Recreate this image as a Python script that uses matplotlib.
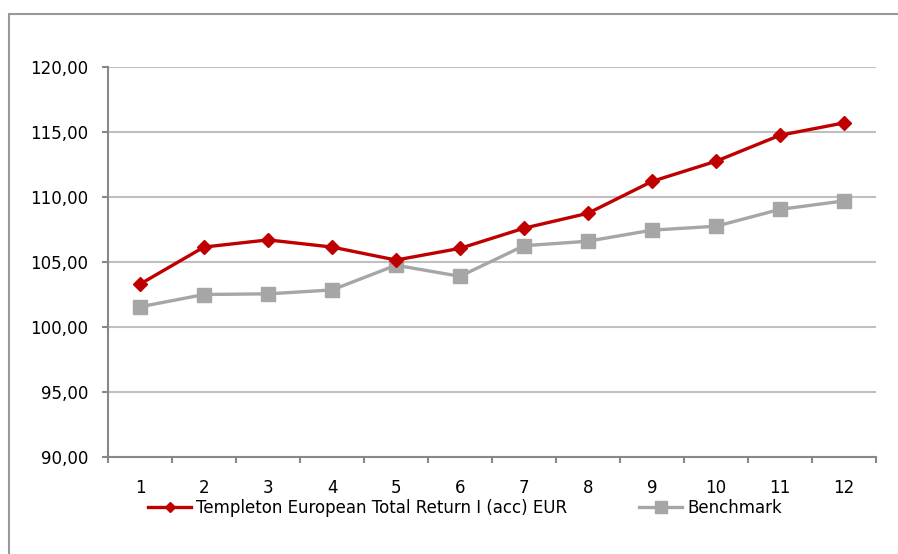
import matplotlib
matplotlib.use('Agg')
import matplotlib.pyplot as plt
from matplotlib.patches import Rectangle
from matplotlib.ticker import FuncFormatter

months = [1, 2, 3, 4, 5, 6, 7, 8, 9, 10, 11, 12]
fund = [103.3, 106.15, 106.7, 106.15, 105.15, 106.05, 107.6, 108.75, 111.2, 112.75, 114.75, 115.7]
bench = [101.55, 102.5, 102.55, 102.85, 104.75, 103.9, 106.25, 106.6, 107.45, 107.75, 109.05, 109.7]
fund_name = 'Templeton European Total Return I (acc) EUR'
bench_name = 'Benchmark'

plt.rcParams['font.family'] = 'DejaVu Sans'

fig = plt.figure(figsize=(8.98, 5.54), dpi=100)
# outer frame (runs off the right and bottom edge)
fig.patches.append(Rectangle((8.5/898, -0.1), 1.2, 1 - 13.5/554 + 0.1, transform=fig.transFigure,
                             fill=False, edgecolor='#999999', linewidth=1.5))

ax = fig.add_axes([108/898, 1 - 457/554, 768/898, 390/554])
red = '#C00000'
grey = '#A6A6A6'
ax.plot(months, fund, color=red, lw=2.4, marker='D', ms=7, label=fund_name, zorder=3)
ax.plot(months, bench, color=grey, lw=2.4, marker='s', ms=10, label=bench_name, zorder=2)

ax.set_xlim(0.5, 12.5)
ax.set_ylim(90, 120)
ax.set_yticks([90, 95, 100, 105, 110, 115, 120])
ax.yaxis.set_major_formatter(FuncFormatter(lambda v, p: '{:.2f}'.format(v).replace('.', ',')))
ax.set_xticks(months)
ax.set_xticks([m + 0.5 for m in [0] + months], minor=True)
ax.grid(axis='y', color='#C0C0C0', lw=1.5)
ax.set_axisbelow(True)

for s in ['top', 'right']:
    ax.spines[s].set_visible(False)
for s in ['left', 'bottom']:
    ax.spines[s].set_color('#888888')
    ax.spines[s].set_linewidth(1.5)

ax.tick_params(axis='x', which='major', length=0, pad=16, labelsize=12)
ax.tick_params(axis='x', which='minor', length=4, width=1.5, color='#888888')
ax.tick_params(axis='y', length=4, width=1.5, color='#888888', pad=10, labelsize=12)

leg = ax.legend(loc='upper center', bbox_to_anchor=(0.465, -0.09), ncol=2, frameon=False,
                fontsize=12, handlelength=2.6, handletextpad=0.3, columnspacing=4.3,
                borderaxespad=0, markerscale=0.8)

fig.savefig('out.png', dpi=100)
